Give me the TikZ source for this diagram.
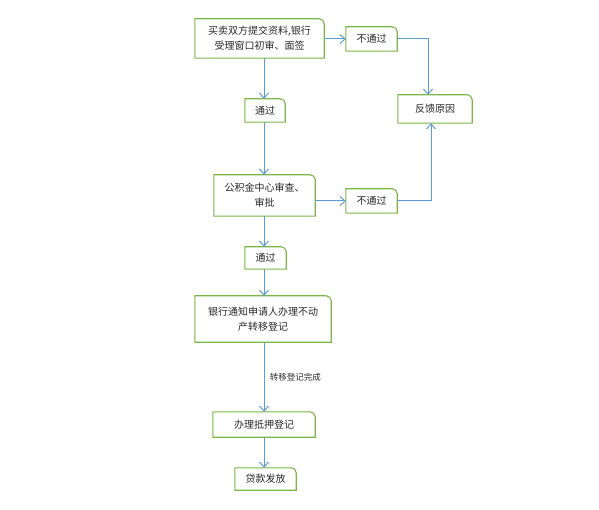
\documentclass[tikz,border=0pt]{standalone}
\usepackage{fontspec}
\setmainfont{Noto Sans CJK SC}
\usetikzlibrary{arrows.meta}
\definecolor{boxgreen}{RGB}{122,182,72}
\definecolor{lineblue}{RGB}{91,155,213}
\definecolor{txt}{RGB}{40,40,40}
\tikzset{
  bx/.style={draw=none, inner sep=0pt, align=center, text=txt, font=\fontsize{10}{15}\selectfont},
  conn/.style={draw=lineblue, line width=1pt, -{Straight Barb[length=5pt,width=9pt,line width=1pt]}},
  frameline/.style={draw=boxgreen, line width=1.1pt},
  lbl/.style={text=txt, font=\fontsize{8.5}{10}\selectfont, anchor=west}
}
\begin{document}
\begin{tikzpicture}[x=1pt,y=1pt]
\useasboundingbox (0,0) rectangle (599,509);
\node[bx, minimum width=129pt, minimum height=39pt] (A) at (259.5,470.5) {买卖双方提交资料,银行\\受理窗口初审、面签};
\node[bx, minimum width=51pt, minimum height=24pt] (B) at (371.5,470) {不通过};
\node[bx, minimum width=74pt, minimum height=28pt] (C) at (435,400) {反馈原因};
\node[bx, minimum width=40pt, minimum height=23pt] (D) at (265,398.5) {通过};
\node[bx, minimum width=101pt, minimum height=41pt] (E) at (264.5,313.5) {公积金中心审查、\\审批};
\node[bx, minimum width=51pt, minimum height=24pt] (F) at (371.5,308) {不通过};
\node[bx, minimum width=41pt, minimum height=22pt] (G) at (265.5,251) {通过};
\node[bx, minimum width=136pt, minimum height=46pt] (H) at (263,190) {银行通知申请人办理不动\\产转移登记};
\node[bx, minimum width=102pt, minimum height=25pt] (I) at (264,84.5) {办理抵押登记};
\node[bx, minimum width=61pt, minimum height=22pt] (J) at (265.5,30) {贷款发放};
\foreach \n in {A,B,C,D,E,F,G,H,I,J}
  \draw[frameline] (\n.south west) -- (\n.north west) -- ([xshift=-5pt]\n.north east)
    arc[start angle=90,end angle=0,radius=5pt] -- (\n.south east) -- cycle;
\coordinate (col) at (264,0);
\coordinate (rc1) at (428,0);
\coordinate (rc2) at (431,0);
\draw[conn] (A.south -| col) -- (D.north -| col);
\draw[conn] (D.south -| col) -- (E.north -| col);
\draw[conn] (E.south -| col) -- (G.north -| col);
\draw[conn] (G.south -| col) -- (H.north -| col);
\draw[conn] (H.south -| col) -- node[lbl, pos=0.5, xshift=2pt] (L) {转移登记完成} (I.north -| col);
\draw[conn] (I.south -| col) -- (J.north -| col);
\draw[conn] (A.east |- B.west) -- (B.west);
\draw[conn] (E.east |- F.west) -- (F.west);
\draw[conn] (B.east) -| (C.north -| rc1);
\draw[conn] (F.east) -| (C.south -| rc2);
\end{tikzpicture}
\end{document}
